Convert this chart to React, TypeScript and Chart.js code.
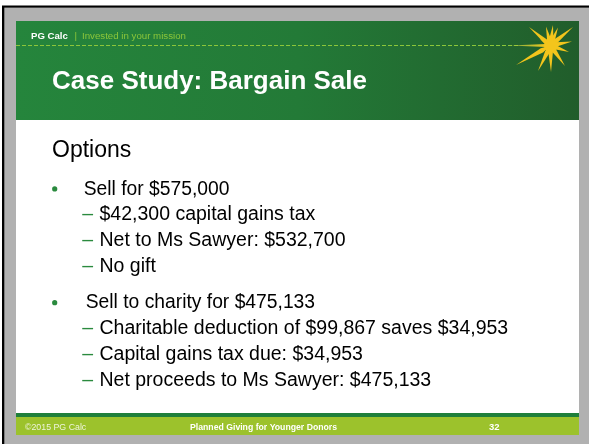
import React, { useEffect, useRef } from "react";
import { Chart, registerables } from "chart.js";

Chart.register(...registerables);

// ---- slide content ----
const headerBrand = "PG Calc";
const headerSeparator = "|";
const headerTagline = "Invested in your mission";
const slideTitle = "Case Study: Bargain Sale";
const sectionHeading = "Options";
const mainBullets = ["Sell for $575,000", "Sell to charity for $475,133"];
const subBulletsFirst = [
  "$42,300 capital gains tax",
  "Net to Ms Sawyer: $532,700",
  "No gift",
];
const subBulletsSecond = [
  "Charitable deduction of $99,867 saves $34,953",
  "Capital gains tax due: $34,953",
  "Net proceeds to Ms Sawyer: $475,133",
];
const footerLeft = "©2015 PG Calc";
const footerCenter = "Planned Giving for Younger Donors";
const footerPage = "32";

const FONT = '"Liberation Sans", Arial, Helvetica, sans-serif';

const slidePlugin = {
  id: "slidePainter",
  beforeDraw(chart: any) {
    const ctx: CanvasRenderingContext2D = chart.ctx;
    const W = chart.width;
    const H = chart.height;
    ctx.save();
    // page background
    ctx.fillStyle = "#ffffff";
    ctx.fillRect(0, 0, W, H);
    // black frame
    ctx.fillStyle = "#000000";
    ctx.fillRect(2, 5.5, W - 2, H - 5.5);
    // gray surround
    ctx.fillStyle = "#b1b1b1";
    ctx.fillRect(4.3, 7.6, W - 4.3, H - 7.6);

    const sx = 16, sy = 21, sw = 579 - 16;
    // white slide body
    ctx.fillStyle = "#ffffff";
    ctx.fillRect(sx, sy, sw, 435 - sy);

    // header gradient
    const g = ctx.createLinearGradient(sx, 0, sx + sw, 0);
    g.addColorStop(0, "#25853c");
    g.addColorStop(0.5, "#237a37");
    g.addColorStop(1, "#215d2b");
    ctx.fillStyle = g;
    ctx.fillRect(sx, sy, sw, 120 - sy);

    // dashed rule
    ctx.strokeStyle = "#8cc63a";
    ctx.lineWidth = 1;
    ctx.setLineDash([4, 2]);
    ctx.beginPath();
    ctx.moveTo(sx, 45.5);
    ctx.lineTo(520, 45.5);
    ctx.stroke();
    ctx.setLineDash([]);

    // streak into star
    const sg = ctx.createLinearGradient(510, 0, 546, 0);
    sg.addColorStop(0, "rgba(170,205,70,0.7)");
    sg.addColorStop(1, "#f3c51c");
    ctx.fillStyle = sg;
    ctx.beginPath();
    ctx.moveTo(510, 45.5);
    ctx.lineTo(546, 44);
    ctx.lineTo(546, 47);
    ctx.closePath();
    ctx.fill();

    // starburst
    const cx = 550.5, cy = 45.5;
    const tips: [number, number][] = [
      [529, 27], [546, 26.5], [553, 25], [558, 27.5], [573, 27],
      [572, 41.5], [569, 52], [565, 66], [551, 72], [538, 71],
      [516, 65], [540, 39],
    ];
    ctx.fillStyle = "#f3c51c";
    tips.forEach(([tx, ty]) => {
      const dx = tx - cx, dy = ty - cy;
      const len = Math.hypot(dx, dy);
      const nx = -dy / len, ny = dx / len;
      const hw = 2.3;
      const mx = cx + dx * 0.25, my = cy + dy * 0.25;
      ctx.beginPath();
      ctx.moveTo(cx, cy);
      ctx.lineTo(mx + nx * hw, my + ny * hw);
      ctx.lineTo(tx, ty);
      ctx.lineTo(mx - nx * hw, my - ny * hw);
      ctx.closePath();
      ctx.fill();
    });
    ctx.beginPath();
    ctx.arc(cx, cy, 6.5, 0, Math.PI * 2);
    ctx.fill();

    // header labels
    ctx.textBaseline = "alphabetic";
    ctx.textAlign = "left";
    ctx.fillStyle = "#ffffff";
    ctx.font = `bold 9.6px ${FONT}`;
    ctx.fillText(headerBrand, 31, 39);
    ctx.fillStyle = "#8cc63a";
    ctx.font = `9.7px ${FONT}`;
    ctx.fillText(headerSeparator, 74.5, 39);
    ctx.fillText(headerTagline, 82, 39);

    // title
    ctx.fillStyle = "#ffffff";
    ctx.font = `bold 26px ${FONT}`;
    ctx.fillText(slideTitle, 52, 88.5);

    // heading
    ctx.fillStyle = "#000000";
    ctx.font = `23px ${FONT}`;
    ctx.fillText(sectionHeading, 52, 157);

    const groups = [
      { main: mainBullets[0], subs: subBulletsFirst, y: 194.5, tx: 83.7 },
      { main: mainBullets[1], subs: subBulletsSecond, y: 308.3, tx: 85.7 },
    ];
    const lineGap = 25.8;
    groups.forEach((grp) => {
      // bullet
      ctx.fillStyle = "#2a8a3e";
      ctx.beginPath();
      ctx.arc(54.7, grp.y - 5.6, 2.6, 0, Math.PI * 2);
      ctx.fill();
      ctx.fillStyle = "#000000";
      ctx.font = `19.3px ${FONT}`;
      ctx.fillText(grp.main, grp.tx, grp.y);
      grp.subs.forEach((s, i) => {
        const by = grp.y + lineGap * (i + 1);
        ctx.fillStyle = "#2a8a3e";
        ctx.font = `19.5px ${FONT}`;
        ctx.fillText("\u2013", 82.3, by);
        ctx.fillStyle = "#000000";
        ctx.fillText(s, 99.5, by);
      });
    });

    // footer
    ctx.fillStyle = "#1f7f3b";
    ctx.fillRect(sx, 413, sw, 4);
    ctx.fillStyle = "#9cc22c";
    ctx.fillRect(sx, 417, sw, 18);
    ctx.fillStyle = "#eef4dc";
    ctx.font = `8.8px ${FONT}`;
    ctx.fillText(footerLeft, 25, 430);
    ctx.fillStyle = "#ffffff";
    ctx.font = `bold 8.7px ${FONT}`;
    ctx.fillText(footerCenter, 190, 430);
    ctx.font = `bold 9.5px ${FONT}`;
    ctx.textAlign = "right";
    ctx.fillText(footerPage, 499.5, 430);
    ctx.restore();
  },
};

export default function App() {
  const ref = useRef<HTMLCanvasElement | null>(null);
  useEffect(() => {
    if (!ref.current) return;
    const chart = new Chart(ref.current, {
      type: "scatter",
      data: { datasets: [{ data: [] }] },
      options: {
        responsive: false,
        animation: false,
        devicePixelRatio: 1,
        layout: { padding: 0 },
        scales: { x: { display: false }, y: { display: false } },
        plugins: { legend: { display: false }, tooltip: { enabled: false } },
      },
      plugins: [slidePlugin],
    });
    return () => chart.destroy();
  }, []);
  return (
    <div style={{ position: "absolute", left: 0, top: 0, width: 589, height: 444 }}>
      <canvas ref={ref} width={589} height={444} style={{ display: "block", width: 589, height: 444 }} />
    </div>
  );
}
